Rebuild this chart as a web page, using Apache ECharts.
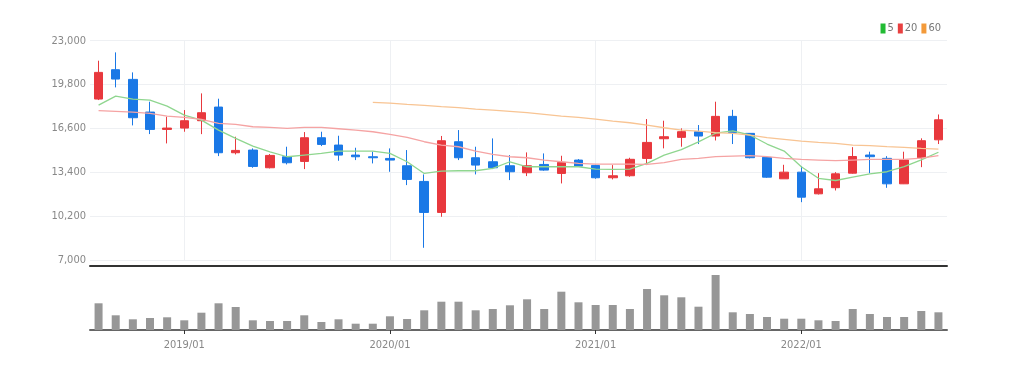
<!DOCTYPE html>
<html><head><meta charset="utf-8">
<script src="https://cdn.jsdelivr.net/npm/echarts@6/dist/echarts.min.js"></script>
<style>html,body{margin:0;padding:0;background:#fff}#c{width:1009px;height:371px}</style>
</head><body><div id="c"></div>
<script>
const months = ['2018/08','2018/09','2018/10','2018/11','2018/12','2019/01','2019/02','2019/03','2019/04','2019/05','2019/06','2019/07','2019/08','2019/09','2019/10','2019/11','2019/12','2020/01','2020/02','2020/03','2020/04','2020/05','2020/06','2020/07','2020/08','2020/09','2020/10','2020/11','2020/12','2021/01','2021/02','2021/03','2021/04','2021/05','2021/06','2021/07','2021/08','2021/09','2021/10','2021/11','2021/12','2022/01','2022/02','2022/03','2022/04','2022/05','2022/06','2022/07','2022/08','2022/09'];
const openP  = [18742,20883,20178,17793,16528,16625,17161,18158,14825,15020,13730,14533,14192,15920,15385,14655,14533,14411,13876,12733,10470,15628,14460,14168,13876,13365,13973,13317,14290,13900,13000,13146,14411,15847,15947,16361,16044,17479,16239,14488,12923,13409,11829,12275,13336,14658,14415,12558,14464,15768];
const closeP = [20689,20202,17380,16528,16625,17161,17745,14825,14995,13826,14630,14095,15920,15433,14655,14533,14460,14290,12878,10470,15701,14460,13925,13730,13438,13876,13560,14120,13852,13000,13146,14347,15579,15993,16361,16044,17479,16288,14464,13044,13409,11585,12193,13288,14552,14537,12558,14294,15704,17228];
const lowP   = [18669,19594,16820,16188,15506,16358,16183,14582,14703,13730,13683,13973,13633,15312,14241,14290,14047,13438,12465,7891,10154,14290,13244,13633,12830,13122,13512,12587,13803,12927,12879,13073,13925,15145,15266,15461,15720,15461,14415,12996,12923,11220,11780,12072,13300,13336,12266,12542,13774,15461];
const highP  = [21540,22148,20689,18548,17453,17939,19156,18767,15993,15142,14728,15264,16334,16358,16066,15190,14898,15142,15020,13244,16050,16480,15263,15871,14655,14850,14777,14606,14363,13949,13925,14460,17283,17163,16604,16847,18549,17957,16239,14585,13946,13847,13336,13410,15233,14901,14577,14901,15876,17617];
const ma5  = [18304,18961,18742,18669,18231,17574,17209,16479,15871,15312,14897,14533,14655,14777,14947,14947,14947,14776,14168,13316,13487,13511,13511,13681,14168,13803,13803,13803,13803,13633,13609,13633,14047,14655,15050,15620,16250,16420,16120,15460,14950,13800,12960,12800,13050,13280,13440,13820,14300,14860];
const ma20 = [17891,17842,17793,17696,17501,17404,17258,16966,16893,16723,16674,16601,16674,16674,16577,16480,16358,16163,15944,15628,15385,15263,14947,14703,14533,14460,14290,14168,14047,13998,13998,13998,13973,14100,14342,14415,14537,14585,14610,14537,14415,14342,14294,14245,14294,14342,14342,14342,14440,14610];
const ma60 = [null,null,null,null,null,null,null,null,null,null,null,null,null,null,null,null,18499,18450,18353,18280,18183,18110,18012,17939,17842,17745,17623,17501,17404,17282,17136,17015,16844,16650,16482,16409,16288,16239,16117,15923,15801,15680,15582,15509,15388,15339,15266,15218,15145,15096];
const volume = [267,147,107,120,127,97,173,267,230,97,90,90,147,80,107,63,63,137,110,197,283,283,197,210,247,307,210,383,277,250,250,210,410,347,327,233,550,177,160,130,113,113,97,90,210,160,130,130,190,177];
const yTicks = [7000,10200,13400,16600,19800,23000];

const UP = '#e8383d', DOWN = '#1a78e6';
const FONT = '"DejaVu Sans Condensed", "Liberation Sans Narrow", "Roboto Condensed", "Open Sans Condensed", sans-serif';
const isYear = (i) => months[i].endsWith('/01');
const fmt = v => String(v).replace(/\B(?=(\d{3})+(?!\d))/g, ',');

const candleData = months.map((m,i) => [openP[i], closeP[i], lowP[i], highP[i]]);
const volData = volume.map(v => v*1000);

const chart = echarts.init(document.getElementById('c'), null, {renderer:'canvas'});
chart.setOption({
  animation:false,
  backgroundColor:'#fff',
  legend:{
    right:63, top:18, icon:'rect', itemWidth:5, itemHeight:10, itemGap:4,
    textStyle:{color:'#777', fontSize:11, fontFamily:FONT, padding:[0,0,0,-3]},
    data:[{name:'5', itemStyle:{color:'#22bb33'}},{name:'20', itemStyle:{color:'#e84040'}},{name:'60', itemStyle:{color:'#f39a3a'}}]
  },
  grid:[
    {left:90, right:62, top:40.7, height:219.3},
    {left:90, right:62, top:270, height:60}
  ],
  xAxis:[
    {type:'category', gridIndex:0, data:months, boundaryGap:true,
     axisLine:{show:true, onZero:false, lineStyle:{color:'#333', width:2}}, offset:6,
     axisTick:{show:false}, axisLabel:{show:false},
     splitLine:{show:true, interval:(i)=>isYear(i), alignWithLabel:true, lineStyle:{color:'#eef0f3', width:1}}},
    {type:'category', gridIndex:1, data:months, boundaryGap:true,
     axisLine:{show:true, onZero:false, lineStyle:{color:'#666', width:2}},
     axisTick:{show:true, alignWithLabel:true, interval:(i)=>isYear(i), length:4, lineStyle:{color:'#333'}},
     axisLabel:{interval:(i)=>isYear(i), color:'#888', fontSize:11, fontFamily:FONT, margin:10},
     splitLine:{show:false}}
  ],
  yAxis:[
    {type:'value', gridIndex:0, min:7000, max:23000, interval:3200, scale:true,
     axisLine:{show:false}, axisTick:{show:false},
     axisLabel:{color:'#888', fontSize:11, fontFamily:FONT, margin:4, formatter:v=>fmt(v)},
     splitLine:{lineStyle:{color:'#eef0f3', width:1}}},
    {type:'value', gridIndex:1, min:0, max:600000,
     axisLine:{show:false}, axisTick:{show:false}, axisLabel:{show:false}, splitLine:{show:false}}
  ],
  series:[
    {type:'candlestick', name:'price', xAxisIndex:0, yAxisIndex:0, data:candleData, barWidth:9,
     itemStyle:{color:UP, color0:DOWN, borderColor:UP, borderColor0:DOWN, borderWidth:1}},
    {type:'line', name:'5', xAxisIndex:0, yAxisIndex:0, data:ma5, showSymbol:false, symbol:'none',
     lineStyle:{color:'#8fd68f', width:1.3}, itemStyle:{color:'#22bb33'}},
    {type:'line', name:'20', xAxisIndex:0, yAxisIndex:0, data:ma20, showSymbol:false, symbol:'none',
     lineStyle:{color:'#f5a3a3', width:1.3}, itemStyle:{color:'#e84040'}},
    {type:'line', name:'60', xAxisIndex:0, yAxisIndex:0, data:ma60, showSymbol:false, symbol:'none',
     lineStyle:{color:'#f8c493', width:1.3}, itemStyle:{color:'#f39a3a'}},
    {type:'bar', name:'vol', xAxisIndex:1, yAxisIndex:1, data:volData, barWidth:8,
     itemStyle:{color:'#979797'}}
  ]
});
</script></body></html>
